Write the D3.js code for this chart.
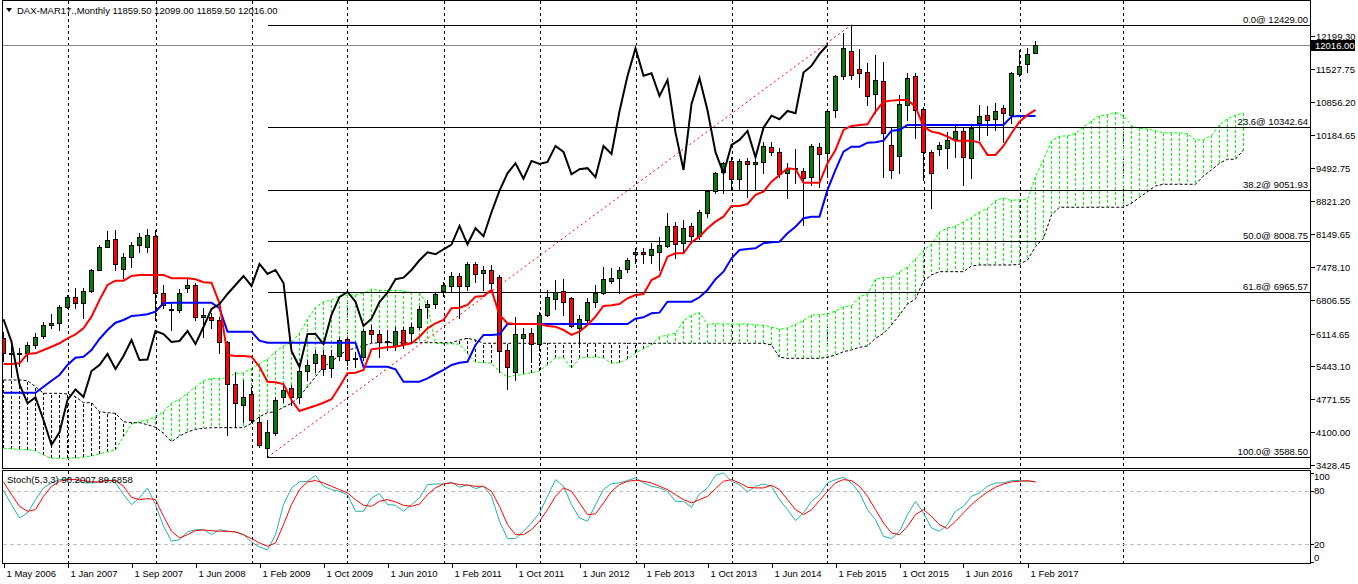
<!DOCTYPE html>
<html><head><meta charset="utf-8">
<script src="https://cdn.jsdelivr.net/npm/d3@7"></script>
<style>
html,body{margin:0;padding:0;background:#fff;}
svg{display:block;font-family:"Liberation Sans",Arial,sans-serif;}
</style></head>
<body><svg id="c" width="1358" height="584"></svg>
<script>
// ---------- data (monthly bars, May 2006 .. Mar 2017) ----------
const open=[6019,5712,5700,5712,5882,6052,6290,6335,6655,6858,
6735,6986,7420,7892,8050,7430,7675,7927,7880,8111,
6939,6624,6598,7042,7103,6448,6461,6393,5937,5078,
4655,4880,4301,3770,4076,4819,5003,4819,5350,5514,
5678,5412,5657,6005,5610,5637,6189,6107,5943,5862,
6189,6127,6250,6659,6720,6986,7089,7293,7089,7538,
7360,7416,7273,5780,5330,6025,6127,5902,6496,6823,
6986,6837,6244,6393,6767,6939,7197,7258,7422,7743,
7778,7708,7798,7901,8316,7962,8309,8105,8596,9017,
9406,9645,9283,9639,9577,9630,9937,9829,9393,9491,
9446,9311,9937,9802,10682,11369,11888,11520,11459,11015,
11281,9972,9753,10776,11383,10702,9823,9884,9904,10088,
10258,9720,10436,10592,10498,10723,10600,11418,11622,11859.5];
const high=[6140,5950,5830,5950,6127,6358,6510,6700,6905,7042,
7042,7430,7927,8219,8234,7757,7994,8166,8248,8234,
7109,6735,7021,7279,7144,6633,6536,6455,5960,5336,
5166,5029,4416,4348,4825,5064,5064,5412,5575,5780,
5780,5780,6046,6046,5739,6209,6291,6189,6189,6250,
6250,6332,6680,6802,6966,7170,7375,7354,7579,7579,
7498,7518,7314,5882,6448,6230,6230,6557,7007,7211,
7226,6870,6496,6837,7109,7483,7450,7471,7655,7860,
7860,7962,8097,8575,8403,8438,8371,8650,9060,9426,
9630,9720,9680,9700,9665,10040,10040,9904,9598,9884,
9495,9990,10007,10700,11404,12256,12429,11935,11643,11812,
11675,10346,10995,11438,11438,10755,9870,10040,10244,10361,
10346,10361,10790,10770,10825,10790,11471,11915,11949,12099];
const low=[5555,5235,5450,5560,5820,6025,6223,6190,6640,6633,
6428,6970,7416,7878,7416,7246,7483,7790,7790,6393,
6639,6189,6563,6972,6393,6039,6230,5718,4041,4211,
4313,4313,3802,3588.5,4041,4716,4655,4700,5166,5330,
5269,5228,5575,5473,5432,5575,5943,5637,5780,5780,
5821,5923,6209,6434,6639,6884,6966,6434,7007,7170,
7007,7048,5330,4982,5166,5371,5575,5841,6475,6618,
6496,6256,5882,6358,6665,6925,7144,6939,7381,7553,
7553,7553,7416,7880,7655,7757,7962,8050,8506,8984,
8984,9052,9052,8915,9052,9393,9768,9324,8882,9189,
8336,9154,9119,9318,10551,11320,11315,11164,10790,10633,
9311,9291,9393,10483,10109,9256,8677,9768,9495,9733,
9154,9291,10074,10177,10279,10040,10416,11380,11471,11859.5];
const close=[5712,5700,5712,5882,6052,6285,6330,6653,6858,6735,
6986,7416,7892,8029,7538,7675,7927,8097,8132,6939,
6700,6612,6939,7103,6448,6496,6408,5949,5078,4690,
4812,4348,3837,4097,4757,4972,4819,5350,5473,5698,
5391,5657,5984,5575,5585,6168,6107,5943,5964,6168,
5902,6250,6618,6720,6925,7109,7293,7089,7538,7334,
7416,7150,5759,5432,6107,6107,5902,6496,6864,6966,
6767,6271,6420,6761,6951,7226,7258,7416,7614,7778,
7737,7839,7933,8316,7941,8268,8105,8596,9038,9393,
9598,9283,9645,9583,9624,9952,9829,9373,9475,9497,
9311,9952,9788,10660,11383,11949,11389,11438,10974,11301,
10224,9461,10811,11336,10682,9823,9393,9972,10074,10258,
9720,10326,10571,10498,10667,10620,11451,11588,11833,12016];

// Ichimoku lines
const tenkan=[5493,5493,5508,5698,5712,5780,5847,5917,6019,6101,
6223,6461,6802,7109,7197,7197,7293,7314,7314,7314,
7314,7246,7246,7246,7226,7164,7156,6735,5678,5657,
5657,5643,5438,5131,5119,5084,4757,4532,4588,4641,
4702,4772,5029,5303,5316,5371,5794,5815,5835,5847,
5882,5917,6052,6223,6326,6393,6633,6645,6700,6870,
6884,7007,6496,6326,6311,6311,6311,6311,6271,6256,
6189,6087,6154,6291,6461,6680,6694,6720,6837,6905,
6925,7211,7293,7688,7757,7757,7982,8097,8268,8403,
8506,8725,8725,8765,8950,9017,9221,9359,9495,9475,
9201,9201,9201,9598,9870,10279,10361,10381,10395,10653,
10857,10878,10892,10892,10755,10346,10244,10211,10142,10060,
10060,10060,10019,9768,9768,9952,10211,10448,10586,10688];
const kijun=[4907,4907,4907,4907,4907,5029,5152,5269,5473,5622,
5643,5780,6005,6189,6338,6393,6475,6489,6510,6563,
6735,6747,6747,6747,6747,6747,6747,6633,6154,6154,
6154,6154,5970,5929,5929,5929,5929,5929,5929,5929,
5929,5929,5929,5929,5929,5438,5438,5438,5438,5385,
5131,5131,5131,5201,5289,5371,5473,5520,5540,5882,
6087,6087,6101,6311,6311,6311,6311,6311,6311,6311,
6311,6311,6311,6311,6311,6311,6311,6311,6311,6420,
6448,6530,6543,6767,6767,6767,6767,6858,7007,7226,
7381,7655,7825,7845,7860,7962,7982,7994,8166,8301,
8473,8506,8506,9052,9461,9835,9937,9937,10019,10027,
10060,10264,10279,10381,10381,10381,10381,10381,10381,10381,
10381,10381,10381,10381,10381,10381,10551,10565,10565,10565];
const senkouA=[3770,3761,3749,3741,3720,3633,3565,3565,3565,3571,
3585,3612,3653,3700,3735,4007,4266,4313,4348,4416,
4518,4690,4772,4894,5029,5146,5200,5200,5208,5303,
5310,5405,5500,5593,5746,5862,5933,6121,6404,6649,
6768,6795,6884,6902,6912,6939,7025,6997,6997,6997,
6987,6956,6952,6684,5916,5906,5906,5899,5704,5530,
5524,5507,5343,5231,5259,5285,5316,5351,5479,5616,
5623,5405,5616,5627,5637,5616,5507,5524,5592,5712,
5808,5882,6053,6083,6120,6376,6486,6547,6299,6319,
6311,6311,6311,6311,6291,6284,6250,6199,6233,6301,
6386,6496,6503,6516,6574,6663,6687,6871,6918,7228,
7262,7262,7375,7478,7638,7815,7944,8190,8275,8305,
8405,8490,8602,8677,8831,8888,8837,8854,8854,9325,
9666,10057,10149,10159,10207,10340,10459,10571,10586,10637,
10568,10364,10313,10296,10262,10221,10221,10221,10200,10075,
10075,10167,10381,10507,10576,10627];
const senkouB=[5166,5166,5166,5152,5029,4894,4894,4894,4880,4825,
4702,4702,4518,4498,4485,4313,4293,4293,4252,4199,
4076,3904,4021,4103,4158,4179,4191,4191,4191,4191,
4191,4281,4416,4498,4518,4608,4690,4825,5029,5234,
5438,5540,5678,5780,5815,5862,5917,5929,5929,5929,
5929,5929,5929,5929,5929,5929,5929,5984,6019,5984,
5917,5917,5917,5917,5917,5917,5917,5917,5917,5917,
5917,5917,5917,5917,5917,5917,5917,5917,5917,5917,
5917,5917,5917,5917,5917,5917,5917,5917,5917,5917,
5917,5917,5917,5917,5917,5917,5882,5631,5610,5610,
5610,5610,5610,5631,5678,5745,5780,5835,5862,6019,
6121,6291,6496,6720,6823,7191,7314,7381,7381,7381,
7381,7498,7518,7518,7518,7518,7518,7532,7620,7892,
8064,8541,8698,8698,8698,8698,8698,8698,8698,8698,
8698,8780,8902,9017,9134,9168,9168,9168,9168,9168,
9338,9461,9598,9680,9680,9870];

// Stochastic (5,3,3)
const stochK=[80.1,64.4,49.5,55.1,70.0,83.1,88.7,92.4,93.1,92.4,
88.7,88.7,89.8,92.4,88.7,75.6,64.4,71.9,83.1,64.4,
40.2,23.4,25.2,33.8,36.4,36.4,30.8,36.4,34.6,33.8,
30.8,22.6,17.0,13.7,30.8,64.4,83.1,89.8,90.5,97.2,
84.9,81.2,79.3,75.6,57.0,57.0,71.9,76.7,64.4,63.7,
57.0,64.4,71.9,86.8,87.5,87.5,89.4,83.8,86.8,82.3,
84.9,73.7,45.8,26.4,26.4,34.6,43.9,55.1,73.7,92.4,
84.9,64.4,49.5,45.8,64.4,81.2,87.9,88.7,91.3,94.3,
88.7,84.9,83.1,79.3,68.1,68.1,61.4,76.4,83.1,97.2,
99.9,90.5,86.8,78.6,84.9,87.5,84.9,70.0,58.8,46.5,
55.1,68.1,75.6,88.7,92.4,95.0,88.7,77.5,58.8,47.6,
29.0,26.4,34.6,53.2,68.1,55.1,38.3,34.6,42.0,57.0,
62.5,73.7,77.5,84.9,88.7,88.7,91.3,91.3,90.5,90.2];
const stochD=[89.8,75.6,62.5,57.0,58.8,73.7,84.9,90.5,92.4,92.4,
91.3,89.8,89.8,91.3,91.3,84.9,72.6,70.0,71.1,70.0,
51.3,34.6,27.1,30.8,35.3,36.1,35.3,34.6,34.6,33.8,
30.8,26.4,21.5,17.8,21.5,42.0,64.4,81.2,89.8,91.3,
88.7,84.9,81.2,77.5,70.0,63.7,62.5,68.1,70.0,67.4,
63.7,62.5,65.1,75.6,83.1,87.5,88.7,86.8,86.1,84.9,
84.9,79.3,62.5,42.0,30.8,30.8,36.4,45.8,58.8,73.7,
83.1,79.3,66.3,53.2,54.0,66.3,79.3,86.8,90.5,91.7,
90.5,88.7,84.9,81.2,75.6,70.0,66.3,70.0,73.7,82.3,
90.5,92.4,88.7,83.8,83.1,83.1,86.1,81.2,70.0,58.8,
53.2,58.8,68.9,79.3,88.7,92.4,91.3,84.9,73.7,58.8,
43.9,32.7,30.8,40.2,53.2,58.8,51.3,42.0,37.5,45.8,
55.1,64.4,71.9,78.6,83.8,87.5,89.8,90.5,91.3,89.7];

// Fibonacci retracement
const fibPct=["0.0","23.6","38.2","50.0","61.8","100.0"];
const fibPrice=[12429.00,10342.64,9051.93,8008.75,6965.57,3588.50];
const fibFromBar=33, fibToBar=106;

// axes
const priceTicks=[12199.30,11527.75,10856.20,10184.65,9492.75,8821.20,8149.65,7478.10,6806.55,6114.65,5443.10,4771.55,4100.00,3428.45];
const stochTicks=[100,80,20,0];
const stochLevels=[80,20];
const dateLabels=["1 May 2006","1 Jan 2007","1 Sep 2007","1 Jun 2008","1 Feb 2009","1 Oct 2009","1 Jun 2010","1 Feb 2011","1 Oct 2011","1 Jun 2012","1 Feb 2013","1 Oct 2013","1 Jun 2014","1 Feb 2015","1 Oct 2015","1 Jun 2016","1 Feb 2017"];
const dateLabelBars=[0,8,16,24,32,40,48,56,64,72,80,88,96,104,112,120,128];
const gridBars=[8,19,31,43,55,67,79,91,103,115,127,140];
const lastPrice=12016.00;
const headerText="DAX-MAR17.,Monthly  11859.50 12099.00 11859.50 12016.00";
const stochText="Stoch(5,3,3) 90.2007 89.6858";

// ---------- layout ----------
const svg=d3.select('#c');
const L=2.5, R=1310.5, mainTop=0.5, mainBot=468.5, stTop=470.5, stBot=563.5;
const x=d3.scaleLinear().domain([0,129]).range([3.5,1035.5]);
const y=d3.scaleLinear().domain([3428.45,12199.30]).range([465,36]);
const ys=d3.scaleLinear().domain([0,100]).range([562.2,472.8]);
const FS=9.5;

const defs=svg.append('defs');
defs.append('clipPath').attr('id','cm').append('rect').attr('x',L).attr('y',mainTop).attr('width',R-L).attr('height',mainBot-mainTop);
defs.append('clipPath').attr('id','cs').append('rect').attr('x',L).attr('y',stTop).attr('width',R-L).attr('height',stBot-stTop);

const gm=svg.append('g').attr('clip-path','url(#cm)');
const gs=svg.append('g').attr('clip-path','url(#cs)');

// grid
gridBars.forEach(b=>{
  const gx=Math.round(x(b))+0.5;
  gm.append('line').attr('x1',gx).attr('x2',gx).attr('y1',mainTop).attr('y2',mainBot)
    .attr('stroke','#000').attr('stroke-dasharray','3,3').attr('shape-rendering','crispEdges');
  gs.append('line').attr('x1',gx).attr('x2',gx).attr('y1',stTop).attr('y2',stBot)
    .attr('stroke','#000').attr('stroke-dasharray','3,3').attr('shape-rendering','crispEdges');
});

// cloud hatches
const cloudIdx=d3.range(senkouA.length);
gm.append('g').selectAll('line').data(cloudIdx).join('line')
  .attr('x1',i=>x(i)).attr('x2',i=>x(i))
  .attr('y1',i=>y(senkouA[i])).attr('y2',i=>y(senkouB[i]))
  .attr('stroke',i=>senkouA[i]>=senkouB[i]?'#00ff00':'#000')
  .attr('stroke-dasharray','3,2').attr('shape-rendering','crispEdges');

const ln=(arr)=>d3.line().x((d,i)=>x(i)).y(d=>y(d))(arr);
gm.append('path').attr('d',ln(senkouA)).attr('fill','none').attr('stroke','#00ff00').attr('stroke-dasharray','3,2');
gm.append('path').attr('d',ln(senkouB)).attr('fill','none').attr('stroke','#000').attr('stroke-dasharray','3,2');

// fibonacci
fibPrice.forEach((p,k)=>{
  const fy=Math.round(y(p))+0.5;
  gm.append('line').attr('x1',x(fibFromBar)).attr('x2',R).attr('y1',fy).attr('y2',fy)
    .attr('stroke','#000').attr('shape-rendering','crispEdges');
});
gm.append('line').attr('x1',x(fibFromBar)).attr('y1',y(fibPrice[5]))
  .attr('x2',x(fibToBar)).attr('y2',y(fibPrice[0]))
  .attr('stroke','#ff0000').attr('stroke-dasharray','2,3');

// last price line
const lpY=Math.round(y(lastPrice))+0.5;
gm.append('line').attr('x1',L).attr('x2',R).attr('y1',lpY).attr('y2',lpY)
  .attr('stroke','#8a8a8a').attr('shape-rendering','crispEdges');

// candles
const bars=d3.range(open.length);
const cg=gm.append('g');
cg.selectAll('line').data(bars).join('line')
  .attr('x1',i=>x(i)).attr('x2',i=>x(i))
  .attr('y1',i=>Math.round(y(high[i]))).attr('y2',i=>Math.round(y(low[i]))+1)
  .attr('stroke','#000').attr('shape-rendering','crispEdges');
cg.selectAll('rect').data(bars).join('rect')
  .attr('x',i=>x(i)-2).attr('width',4)
  .attr('y',i=>Math.round(Math.min(y(open[i]),y(close[i])))+0.5)
  .attr('height',i=>Math.max(1,Math.round(Math.abs(y(open[i])-y(close[i])))))
  .attr('fill',i=>close[i]>=open[i]?'#008000':'#ff0000')
  .attr('stroke','#000').attr('stroke-width',1).attr('shape-rendering','crispEdges');

// ichimoku lines
gm.append('path').attr('d',ln(kijun)).attr('fill','none').attr('stroke','#0000ff').attr('stroke-width',2);
gm.append('path').attr('d',ln(tenkan)).attr('fill','none').attr('stroke','#ff0000').attr('stroke-width',2);
const chikou=d3.range(26,close.length).map(i=>[x(i-26),y(close[i])]);
gm.append('path').attr('d',d3.line()(chikou)).attr('fill','none').attr('stroke','#000').attr('stroke-width',2);

// stochastic
stochLevels.forEach(v=>{
  const ly=Math.round(ys(v))+0.5;
  gs.append('line').attr('x1',L).attr('x2',R).attr('y1',ly).attr('y2',ly)
    .attr('stroke','#c0c0c0').attr('stroke-dasharray','4,3').attr('shape-rendering','crispEdges');
});
const sl=(arr)=>d3.line().x((d,i)=>x(i)).y(d=>ys(d))(arr);
gs.append('path').attr('d',sl(stochK)).attr('fill','none').attr('stroke','#20b2aa').attr('stroke-width',1);
gs.append('path').attr('d',sl(stochD)).attr('fill','none').attr('stroke','#ff0000').attr('stroke-width',1);

// frames
svg.append('rect').attr('x',L).attr('y',mainTop).attr('width',R-L).attr('height',mainBot-mainTop)
  .attr('fill','none').attr('stroke','#000').attr('shape-rendering','crispEdges');
svg.append('rect').attr('x',L).attr('y',stTop).attr('width',R-L).attr('height',stBot-stTop)
  .attr('fill','none').attr('stroke','#000').attr('shape-rendering','crispEdges');

// fib labels
const tg=svg.append('g').attr('font-size',FS).attr('fill','#000');
fibPrice.forEach((p,k)=>{
  tg.append('text').attr('x',1308).attr('y',Math.round(y(p))-2).attr('text-anchor','end')
    .text(fibPct[k]+'@ '+p.toFixed(2));
});

// price axis
priceTicks.forEach(p=>{
  const ty=Math.round(y(p))+0.5;
  svg.append('line').attr('x1',R).attr('x2',R+4).attr('y1',ty).attr('y2',ty).attr('stroke','#000').attr('shape-rendering','crispEdges');
  tg.append('text').attr('x',1316).attr('y',ty+3.5).text(p.toFixed(2));
});
svg.append('rect').attr('x',1311).attr('y',lpY-5.5).attr('width',44).attr('height',11).attr('fill','#000');
svg.append('text').attr('x',1315).attr('y',lpY+3.5).attr('font-size',FS).attr('fill','#fff').text(lastPrice.toFixed(2));

// stoch axis
const stOff={100:4,80:0,20:0,0:-5};
stochTicks.forEach(v=>{
  const ty=ys(v);
  svg.append('line').attr('x1',R).attr('x2',R+3).attr('y1',Math.round(ty)+0.5).attr('y2',Math.round(ty)+0.5).attr('stroke','#000').attr('shape-rendering','crispEdges');
  tg.append('text').attr('x',1314).attr('y',ty+stOff[v]+3.5).text(v);
});

// date axis
dateLabelBars.forEach((b,k)=>{
  const dx=Math.round(x(b))+0.5;
  svg.append('line').attr('x1',dx).attr('x2',dx).attr('y1',stBot).attr('y2',stBot+4).attr('stroke','#000').attr('shape-rendering','crispEdges');
  tg.append('text').attr('x',dx+2).attr('y',577).text(dateLabels[k]);
});

// headers
svg.append('path').attr('d','M6,8 L12,8 L9,12 Z').attr('fill','#000');
tg.append('text').attr('x',17).attr('y',14).text(headerText);
tg.append('text').attr('x',7).attr('y',483).text(stochText);
</script>
</body></html>
